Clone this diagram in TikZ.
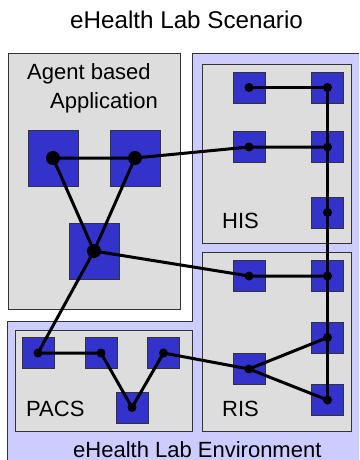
\documentclass[tikz,border=0pt]{standalone}
\usepackage{fontspec}
\setmainfont{Liberation Sans}
\definecolor{envfill}{HTML}{CCCCFF}
\definecolor{boxfill}{HTML}{DDDDDD}
\definecolor{compblue}{HTML}{3333CC}
\definecolor{edge}{HTML}{333333}
\begin{document}
\begin{tikzpicture}[x=1pt,y=-1pt,
  box/.style={draw=edge, fill=boxfill, line width=0.8pt},
  comp/.style={draw=edge, fill=compblue, line width=0.8pt, inner sep=0pt,
               minimum width=32pt, minimum height=31pt},
  bigcomp/.style={comp, minimum width=50pt, minimum height=56pt},
  link/.style={line width=3pt},
  lbl/.style={font=\fontsize{22}{24}\selectfont, inner sep=0pt, anchor=base west}]
\useasboundingbox (0,0) rectangle (359,460);
\clip (0,0) rectangle (359,460);

% title
\node[lbl, font=\fontsize{24.2}{26}\selectfont] (title) at (70,29) {eHealth Lab Scenario};

% lab environment (L-shaped area)
\draw[draw=edge, fill=envfill, line width=0.8pt]
  (192,53) -- (365,53) -- (365,466) -- (7,466) -- (7,321) -- (192,321) -- cycle;
\node[lbl] (envlabel) at (73,457) {eHealth Lab Environment};

% agent application
\draw[box] (8,53) rectangle (180,309);
\node[lbl] (agent1) at (27,79) {Agent based};
\node[lbl] (agent2) at (50,108) {Application};

% sub-systems
\draw[box] (202,64) rectangle (351,243);
\draw[box] (202,252) rectangle (351,431);
\draw[box] (15,330) rectangle (192,431);
\node[lbl] (his) at (222,228) {HIS};
\node[lbl] (ris) at (222,416) {RIS};
\node[lbl] (pacs) at (26,416) {PACS};

% agents
\node[bigcomp] (a1) at (53,158) {};
\node[bigcomp] (a2) at (135,158) {};
\node[bigcomp] (a3) at (94,251) {};

% HIS components
\node[comp] (h1) at (249,87.5) {};
\node[comp] (h2) at (327.5,87.5) {};
\node[comp] (h3) at (249,147) {};
\node[comp] (h4) at (327.5,147) {};
\node[comp] (h5) at (327.5,212.5) {};

% RIS components
\node[comp] (r1) at (249,276) {};
\node[comp] (r2) at (327.5,276) {};
\node[comp] (r3) at (327.5,337.5) {};
\node[comp] (r4) at (249,369) {};
\node[comp] (r5) at (327.5,400) {};

% PACS components
\node[comp] (p1) at (38,353) {};
\node[comp] (p2) at (101,353) {};
\node[comp] (p3) at (163.5,353) {};
\node[comp] (p4) at (132,407.5) {};

% connections
\draw[link] (a1.center) -- (a2.center) -- (h3.center) -- (h4.center);
\draw[link] (a1.center) -- (a3.center) -- (a2.center);
\draw[link] (a3.center) -- (r1.center) -- (r2.center);
\draw[link] (a3.center) -- (p1.center) -- (p2.center) -- (p4.center)
  -- (p3.center) -- (r4.center) -- (r3.center);
\draw[link] (r4.center) -- (r5.center);
\draw[link] (h1.center) -- (h2.center) -- (r5.center);

% connection points
\foreach \n in {a1,a2,a3} \fill (\n.center) circle (7);
\foreach \n in {h1,h2,h3,h4,h5,r1,r2,r3,r4,r5,p1,p2,p3,p4}
  \fill (\n.center) circle (4.5);
\end{tikzpicture}
\end{document}
